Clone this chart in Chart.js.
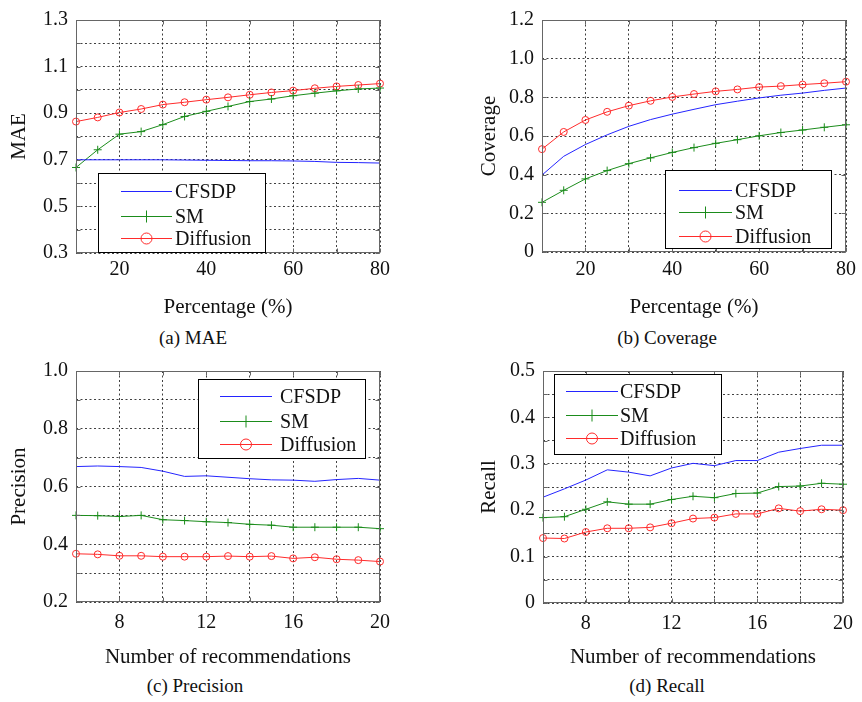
<!DOCTYPE html>
<html>
<head>
<meta charset="utf-8">
<script src="https://cdn.jsdelivr.net/npm/chart.js@4.4.1/dist/chart.umd.min.js"></script>
<style>
  html, body { margin: 0; padding: 0; background: #fff; }
  body { width: 862px; height: 702px; position: relative; overflow: hidden;
         font-family: "Liberation Serif", "Times New Roman", serif; color: #111; }
  .panel { position: absolute; }
  .caption { position: absolute; font-size: 19px; white-space: nowrap; transform: translate(-50%, -50%); }
</style>
</head>
<body>
<div class="panel" style="left:0;top:0;width:431px;height:324px"><canvas id="maeChart"></canvas></div>
<div class="panel" style="left:462px;top:0;width:400px;height:324px"><canvas id="coverageChart"></canvas></div>
<div class="panel" style="left:0;top:351px;width:431px;height:323px"><canvas id="precisionChart"></canvas></div>
<div class="panel" style="left:462px;top:351px;width:400px;height:323px"><canvas id="recallChart"></canvas></div>

<div class="caption" style="left:193px;top:338px">(a) MAE</div>
<div class="caption" style="left:667px;top:338px">(b) Coverage</div>
<div class="caption" style="left:195px;top:686px">(c) Precision</div>
<div class="caption" style="left:667px;top:686px">(d) Recall</div>

<script>
// x values
const percentages = [10, 15, 20, 25, 30, 35, 40, 45, 50, 55, 60, 65, 70, 75, 80];
const recCounts = [6, 7, 8, 9, 10, 11, 12, 13, 14, 15, 16, 17, 18, 19, 20];

// (a) MAE
const maeCFSDP = [0.700, 0.700, 0.700, 0.700, 0.700, 0.699, 0.698, 0.697, 0.696, 0.696, 0.695, 0.693, 0.689, 0.688, 0.686];
const maeSM = [0.667, 0.743, 0.810, 0.821, 0.851, 0.886, 0.908, 0.929, 0.950, 0.961, 0.975, 0.986, 0.996, 1.004, 1.008];
const maeDiffusion = [0.864, 0.882, 0.903, 0.918, 0.937, 0.947, 0.958, 0.968, 0.979, 0.989, 0.997, 1.007, 1.015, 1.021, 1.027];

// (b) Coverage
const covCFSDP = [0.398, 0.495, 0.556, 0.606, 0.650, 0.685, 0.713, 0.738, 0.762, 0.780, 0.797, 0.811, 0.822, 0.836, 0.848];
const covSM = [0.257, 0.319, 0.378, 0.421, 0.457, 0.487, 0.515, 0.540, 0.562, 0.581, 0.601, 0.618, 0.631, 0.645, 0.658];
const covDiffusion = [0.532, 0.621, 0.683, 0.725, 0.757, 0.782, 0.802, 0.817, 0.831, 0.841, 0.853, 0.858, 0.866, 0.873, 0.881];

// (c) Precision
const precCFSDP = [0.669, 0.671, 0.669, 0.666, 0.653, 0.635, 0.637, 0.632, 0.627, 0.623, 0.622, 0.618, 0.624, 0.628, 0.622];
const precSM = [0.500, 0.499, 0.496, 0.500, 0.485, 0.482, 0.478, 0.475, 0.469, 0.466, 0.459, 0.459, 0.459, 0.459, 0.454];
const precDiffusion = [0.367, 0.365, 0.360, 0.360, 0.357, 0.357, 0.357, 0.359, 0.357, 0.359, 0.351, 0.355, 0.348, 0.345, 0.340];

// (d) Recall
const recCFSDP = [0.228, 0.246, 0.265, 0.287, 0.282, 0.274, 0.291, 0.301, 0.296, 0.307, 0.307, 0.325, 0.333, 0.340, 0.340];
const recSM = [0.184, 0.186, 0.202, 0.218, 0.213, 0.213, 0.223, 0.230, 0.227, 0.236, 0.237, 0.251, 0.252, 0.258, 0.256];
const recDiffusion = [0.140, 0.139, 0.153, 0.161, 0.161, 0.163, 0.172, 0.182, 0.184, 0.192, 0.192, 0.204, 0.198, 0.202, 0.200];

const SERIF = '"Liberation Serif", "Times New Roman", serif';
const TEXT = "#111";
const BLUE = "#2424ff";
const GREEN = "#1b8c1b";
const RED = "#ff2b2b";

Chart.defaults.animation = false;

function makeDatasets(xs, cfsdp, sm, diffusion) {
  const pts = (ys) => xs.map((x, i) => ({ x, y: ys[i] }));
  return [
    { label: "CFSDP", data: pts(cfsdp), borderColor: BLUE, borderWidth: 1, pointRadius: 0, clip: false },
    { label: "SM", data: pts(sm), borderColor: GREEN, borderWidth: 1, pointStyle: "cross",
      pointRadius: 4, pointBorderWidth: 1, pointBorderColor: GREEN, clip: false },
    { label: "Diffusion", data: pts(diffusion), borderColor: RED, borderWidth: 1, pointStyle: "circle",
      pointRadius: 3.5, pointBorderWidth: 1, pointBorderColor: RED, pointBackgroundColor: "rgba(0,0,0,0)", clip: false },
  ];
}

// Frame, inward tick marks and a MATLAB style legend box
const frameLegend = {
  id: "frameLegend",
  afterDraw(chart, args, opts) {
    const { ctx, chartArea: a, scales } = chart;
    const L = Math.round(a.left) + 0.5, R = Math.round(a.right) - 0.5;
    const T = Math.round(a.top) + 0.5, B = Math.round(a.bottom) - 0.5;
    ctx.save();
    ctx.strokeStyle = "#666";
    ctx.lineWidth = 1;
    ctx.beginPath();
    scales.x.ticks.forEach((t) => {
      const px = Math.round(scales.x.getPixelForValue(t.value)) + 0.5;
      ctx.moveTo(px, B); ctx.lineTo(px, B - 4);
      ctx.moveTo(px, T); ctx.lineTo(px, T + 4);
    });
    scales.y.ticks.forEach((t) => {
      const py = Math.round(scales.y.getPixelForValue(t.value)) + 0.5;
      ctx.moveTo(L, py); ctx.lineTo(L + 4, py);
      ctx.moveTo(R, py); ctx.lineTo(R - 4, py);
    });
    ctx.stroke();
    ctx.strokeRect(L, T, R - L, B - T);

    // legend
    const bx = Math.round(a.left + opts.x) + 0.5;
    const by = Math.round(a.top + opts.y) + 0.5;
    ctx.fillStyle = "#fff";
    ctx.fillRect(bx, by, opts.w, opts.h);
    ctx.strokeStyle = "#000";
    ctx.strokeRect(bx, by, opts.w, opts.h);
    ctx.font = `20px ${SERIF}`;
    ctx.textBaseline = "middle";
    ctx.textAlign = "left";
    chart.data.datasets.forEach((ds, i) => {
      const y = Math.round(by + opts.rows[i]) + 0.5;
      const x0 = a.left + opts.line[0], x1 = a.left + opts.line[1];
      const cx = (x0 + x1) / 2;
      ctx.strokeStyle = ds.borderColor;
      ctx.lineWidth = 1;
      ctx.beginPath();
      ctx.moveTo(x0, y); ctx.lineTo(x1, y);
      if (ds.pointStyle === "cross") {
        ctx.moveTo(cx, y - 6); ctx.lineTo(cx, y + 6);
      }
      ctx.stroke();
      if (ds.pointStyle === "circle") {
        ctx.beginPath();
        ctx.arc(cx, y, 5.5, 0, Math.PI * 2);
        ctx.stroke();
      }
      ctx.fillStyle = TEXT;
      ctx.fillText(ds.label, a.left + opts.text, y + 1);
    });
    ctx.restore();
  },
};

function fmtY(v) {
  return Math.abs(v) < 1e-9 ? "0" : v.toFixed(1);
}

function makeChart(id, cfg) {
  const ctx = document.getElementById(id).getContext("2d");
  return new Chart(ctx, {
    type: "line",
    data: { datasets: makeDatasets(cfg.xs, cfg.cfsdp, cfg.sm, cfg.diffusion) },
    plugins: [frameLegend],
    options: {
      responsive: true,
      maintainAspectRatio: false,
      layout: { padding: { left: 0, top: 13, right: cfg.padRight, bottom: 0 } },
      plugins: {
        legend: { display: false },
        tooltip: { enabled: false },
        frameLegend: cfg.legend,
      },
      scales: {
        x: {
          type: "linear",
          min: cfg.xMin, max: cfg.xMax,
          afterFit: (s) => { s.height = cfg.xHeight; },
          grid: { color: "rgba(30,30,30,0.85)", lineWidth: 1, drawTicks: false },
          border: { display: false, dash: [2, 2.5] },
          ticks: {
            stepSize: cfg.xStep, autoSkip: false, maxRotation: 0, padding: cfg.xTickPad,
            color: TEXT, font: { family: SERIF, size: 20 },
            callback: (v) => (v % cfg.xLabelEvery === 0 ? String(v) : ""),
          },
          title: {
            display: true, text: cfg.xTitle, color: TEXT,
            font: { family: SERIF, size: 21 }, padding: { top: 0, bottom: 4 },
          },
        },
        y: {
          min: cfg.yMin, max: cfg.yMax,
          afterFit: (s) => { s.width = cfg.yWidth; },
          grid: { color: "rgba(30,30,30,0.85)", lineWidth: 1, drawTicks: false },
          border: { display: false, dash: [2, 2.5] },
          ticks: {
            stepSize: cfg.yStep, autoSkip: false, padding: 8,
            color: TEXT, font: { family: SERIF, size: 20 },
            callback: (v) => {
              const k = Math.round((v - cfg.yMin) / cfg.yStep);
              return k % cfg.yLabelEvery === 0 ? fmtY(v) : "";
            },
          },
          title: {
            display: true, text: cfg.yTitle, color: TEXT,
            font: { family: SERIF, size: 21 }, padding: { top: cfg.yTitlePad, bottom: 0 },
          },
        },
      },
    },
  });
}

makeChart("maeChart", {
  xs: percentages, cfsdp: maeCFSDP, sm: maeSM, diffusion: maeDiffusion,
  xMin: 10, xMax: 80, xStep: 10, xLabelEvery: 20, xTitle: "Percentage (%)",
  yMin: 0.3, yMax: 1.3, yStep: 0.1, yLabelEvery: 2, yTitle: "MAE",
  yWidth: 76, xHeight: 71, padRight: 51, xTickPad: 5, yTitlePad: 7,
  legend: { x: 22, y: 153, w: 167, h: 79, rows: [17, 42, 64], line: [45, 96], text: 99 },
});

makeChart("coverageChart", {
  xs: percentages, cfsdp: covCFSDP, sm: covSM, diffusion: covDiffusion,
  xMin: 10, xMax: 80, xStep: 10, xLabelEvery: 20, xTitle: "Percentage (%)",
  yMin: 0, yMax: 1.2, yStep: 0.2, yLabelEvery: 1, yTitle: "Coverage",
  yWidth: 80, xHeight: 72, padRight: 14, xTickPad: 6, yTitlePad: 15,
  legend: { x: 123, y: 150, w: 166, h: 78, rows: [19, 41, 65], line: [137, 190], text: 193 },
});

makeChart("precisionChart", {
  xs: recCounts, cfsdp: precCFSDP, sm: precSM, diffusion: precDiffusion,
  xMin: 6, xMax: 20, xStep: 2, xLabelEvery: 4, xTitle: "Number of recommendations",
  yMin: 0.2, yMax: 1.0, yStep: 0.1, yLabelEvery: 2, yTitle: "Precision",
  yWidth: 76, xHeight: 72, padRight: 51, xTickPad: 9, yTitlePad: 7,
  legend: { x: 122, y: 8, w: 167, h: 79, rows: [16, 41, 64], line: [144, 196], text: 204 },
});

makeChart("recallChart", {
  xs: recCounts, cfsdp: recCFSDP, sm: recSM, diffusion: recDiffusion,
  xMin: 6, xMax: 20, xStep: 2, xLabelEvery: 4, xTitle: "Number of recommendations",
  yMin: 0, yMax: 0.5, yStep: 0.05, yLabelEvery: 2, yTitle: "Recall",
  yWidth: 81, xHeight: 71, padRight: 13, xTickPad: 9, yTitlePad: 15,
  legend: { x: 11, y: 3, w: 167, h: 80, rows: [16, 40, 63], line: [23, 75], text: 77 },
});
</script>
</body>
</html>
